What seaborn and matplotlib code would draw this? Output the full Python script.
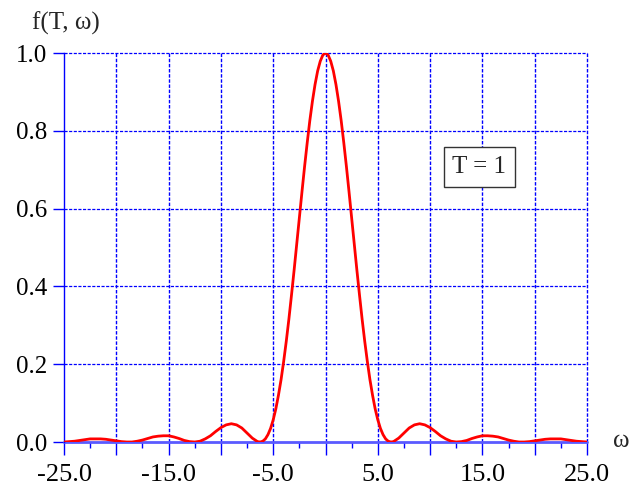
import numpy as np
import pandas as pd
import matplotlib
matplotlib.use("Agg")
import matplotlib.pyplot as plt
import seaborn as sns
from matplotlib.ticker import MultipleLocator, FuncFormatter

# --- data ---
omega = [-25.0, -24.5, -24.0, -23.5, -23.0, -22.5, -22.0, -21.5, -21.0, -20.5,
         -20.0, -19.5, -19.0, -18.5, -18.0, -17.5, -17.0, -16.5, -16.0, -15.5,
         -15.0, -14.5, -14.0, -13.5, -13.0, -12.5, -12.0, -11.5, -11.0, -10.5,
         -10.0, -9.5, -9.0, -8.5, -8.0, -7.5, -7.0, -6.5,
         -6.25, -6.0, -5.75, -5.5, -5.25, -5.0, -4.75, -4.5, -4.25, -4.0,
         -3.75, -3.5, -3.25, -3.0, -2.75, -2.5, -2.25, -2.0, -1.75, -1.5,
         -1.25, -1.0, -0.75, -0.5, -0.25, 0.0,
         0.25, 0.5, 0.75, 1.0, 1.25, 1.5, 1.75, 2.0, 2.25, 2.5,
         2.75, 3.0, 3.25, 3.5, 3.75, 4.0, 4.25, 4.5, 4.75, 5.0,
         5.25, 5.5, 5.75, 6.0, 6.25,
         6.5, 7.0, 7.5, 8.0, 8.5, 9.0, 9.5,
         10.0, 10.5, 11.0, 11.5, 12.0, 12.5, 13.0, 13.5, 14.0, 14.5,
         15.0, 15.5, 16.0, 16.5, 17.0, 17.5, 18.0, 18.5, 19.0, 19.5,
         20.0, 20.5, 21.0, 21.5, 22.0, 22.5, 23.0, 23.5, 24.0, 24.5, 25.0]
f_values = [0.000, 0.001, 0.002, 0.004, 0.006, 0.008, 0.008, 0.008, 0.007, 0.005,
            0.003, 0.001, 0.000, 0.000, 0.002, 0.005, 0.009, 0.013, 0.015, 0.016,
            0.016, 0.013, 0.009, 0.004, 0.001, 0.000, 0.002, 0.008, 0.016, 0.027,
            0.037, 0.044, 0.047, 0.044, 0.036, 0.023, 0.010, 0.001,
            0.000, 0.002, 0.008, 0.019, 0.035, 0.057, 0.085, 0.120, 0.160, 0.207,
            0.259, 0.316, 0.378, 0.442, 0.509, 0.576, 0.643, 0.708, 0.769, 0.826,
            0.876, 0.919, 0.954, 0.979, 0.995, 1.000,
            0.995, 0.979, 0.954, 0.919, 0.876, 0.826, 0.769, 0.708, 0.643, 0.576,
            0.509, 0.442, 0.378, 0.316, 0.259, 0.207, 0.160, 0.120, 0.085, 0.057,
            0.035, 0.019, 0.008, 0.002, 0.000,
            0.001, 0.010, 0.023, 0.036, 0.044, 0.047, 0.044,
            0.037, 0.027, 0.016, 0.008, 0.002, 0.000, 0.001, 0.004, 0.009, 0.013,
            0.016, 0.016, 0.015, 0.013, 0.009, 0.005, 0.002, 0.000, 0.000, 0.001,
            0.003, 0.005, 0.007, 0.008, 0.008, 0.008, 0.006, 0.004, 0.002, 0.001, 0.000]
x_tick_labels = ["-25.0", "-15.0", "-5.0", "5.0", "15.0", "25.0"]
x_tick_positions = [-25, -15, -5, 5, 15, 25]
y_tick_labels = ["0.0", "0.2", "0.4", "0.6", "0.8", "1.0"]
y_tick_positions = [0.0, 0.2, 0.4, 0.6, 0.8, 1.0]
y_label = "f(T, ω)"
x_label = "ω"
annotation = "T = 1"

df = pd.DataFrame({"omega": omega, "f": f_values})

sns.set_theme(style="white")
plt.rcParams["font.family"] = ["Liberation Serif", "DejaVu Serif"]

fig = plt.figure(figsize=(6.29, 4.90), dpi=100)
ax = fig.add_axes([64/629, 1-442/490, (587-64)/629, (442-53)/490])

blue = "#0000ff"
# grid
for xv in np.arange(-20, 26, 5):
    ax.axvline(xv, color=blue, lw=1.0, ls=(0, (2.5, 1.2)), zorder=1, clip_on=False)
for yv in [0.2, 0.4, 0.6, 0.8, 1.0]:
    ax.axhline(yv, color=blue, lw=0.9, ls=(0, (2.5, 1.2)), zorder=1, clip_on=False)

sns.lineplot(data=df, x="omega", y="f", ax=ax, color="#ff0000", lw=2.0, zorder=3)

ax.set_xlim(-25, 25)
ax.set_ylim(0, 1.0)
ax.set_xlabel("")
ax.set_ylabel("")

for s in ["top", "right", "bottom"]:
    ax.spines[s].set_visible(False)
ax.spines["left"].set_color(blue)
ax.spines["left"].set_linewidth(1.0)
ax.axhline(0, color="#5a5aff", lw=2.0, zorder=2, clip_on=False)

label_map = dict(zip(x_tick_positions, x_tick_labels))
ax.xaxis.set_major_locator(MultipleLocator(5))
ax.xaxis.set_minor_locator(MultipleLocator(2.5))
ax.xaxis.set_major_formatter(FuncFormatter(
    lambda v, p: label_map.get(int(round(v)), "") if abs(v - round(v)) < 1e-6 else ""))
ax.set_yticks(y_tick_positions, y_tick_labels)

ax.tick_params(axis="x", which="major", direction="out", length=9, width=1.0,
               color=blue, labelsize=19, pad=7, bottom=True)
ax.tick_params(axis="x", which="minor", direction="out", length=4.5, width=1.0,
               color=blue, bottom=True)
ax.tick_params(axis="y", which="major", direction="out", length=8, width=1.0,
               color=blue, labelsize=18, pad=4, left=True)
for t in ax.get_xticklabels() + ax.get_yticklabels():
    t.set_color("black")

ax.text(14.7, 0.707, annotation, fontsize=18, ha="center", va="center",
        bbox=dict(boxstyle="square,pad=0.35", fc="white", ec="#333333", lw=1.0), zorder=4)

fig.text(66/629, 1-23/490, y_label, fontsize=18, ha="center", va="center")
fig.text(613/629, 1-441/490, x_label, fontsize=18, ha="left", va="center")

fig.savefig("out.png", dpi=100)
